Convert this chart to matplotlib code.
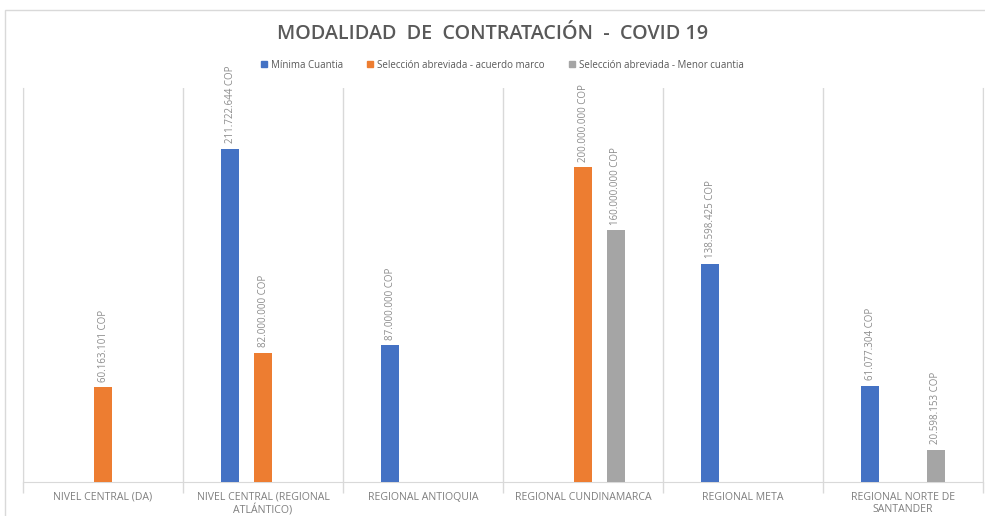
import numpy as np
import matplotlib
matplotlib.use("Agg")
import matplotlib.pyplot as plt
from matplotlib.patches import Patch, Rectangle

# Data (COP)
categories = ["NIVEL CENTRAL (DA)", "NIVEL CENTRAL (REGIONAL\nATLÁNTICO)", "REGIONAL ANTIOQUIA",
              "REGIONAL CUNDINAMARCA", "REGIONAL META", "REGIONAL NORTE DE\nSANTANDER"]
series_names = ["Mínima Cuantia", "Selección abreviada - acuerdo marco",
                "Selección abreviada - Menor cuantia"]
minima_cuantia = [None, 211722644, 87000000, None, 138598425, 61077304]
acuerdo_marco = [60163101, 82000000, None, 200000000, None, None]
menor_cuantia = [None, None, None, 160000000, None, 20598153]
colors = ["#4472C4", "#ED7D31", "#A5A5A5"]

plt.rcParams["font.family"] = ["Open Sans", "DejaVu Sans"]

fig = plt.figure(figsize=(9.85, 5.16), dpi=100)

# light frame around the chart area
fig.patches.append(Rectangle((5 / 985, -0.05), 1.1, 1 - 10 / 516 + 0.05,
                             transform=fig.transFigure, fill=False,
                             edgecolor="#D9D9D9", linewidth=1))

ax = fig.add_axes([23 / 985, 1 - 482 / 516, 960 / 985, (482 - 88) / 516])

x = np.arange(len(categories))
width = 0.1125
offset = 0.206


def fmt(v):
    return f"{v:,}".replace(",", ".") + " COP"


for i, (vals, col) in enumerate(zip([minima_cuantia, acuerdo_marco, menor_cuantia], colors)):
    for xi, v in zip(x, vals):
        if v is None:
            continue
        xp = xi + (i - 1) * offset
        ax.bar(xp, v, width=width, color=col, zorder=3)
        ax.annotate(fmt(v), (xp, v), xytext=(0, 4), textcoords="offset points",
                    rotation=90, ha="center", va="bottom", fontsize=7,
                    color="#8C8C8C")

ax.set_xlim(-0.5, len(categories) - 0.5)
ax.set_ylim(0, 250500000)
ax.set_yticks([])

# separators at the category boundaries, labels at the centres
ax.set_xticks(np.arange(-0.5, len(categories), 1))
ax.set_xticklabels([])
ax.tick_params(axis="x", which="major", length=8, color="#D9D9D9", width=1)
ax.set_xticks(x, minor=True)
ax.set_xticklabels(categories, minor=True, fontsize=7.6, color="#7F7F7F")
ax.tick_params(axis="x", which="minor", length=0, pad=7)
ax.grid(axis="x", which="major", color="#D9D9D9", linewidth=1, zorder=0)

ax.spines["top"].set_visible(False)
for s in ["left", "right", "bottom"]:
    ax.spines[s].set_color("#D9D9D9")

fig.text(0.5, 1 - 34 / 516, "MODALIDAD  DE  CONTRATACIÓN  -  COVID 19",
         ha="center", va="center", fontsize=14.2, fontweight="semibold",
         color="#595959")

handles = [Patch(color=c) for c in colors]
fig.legend(handles, series_names, loc="center", bbox_to_anchor=(0.51, 1 - 65 / 516),
           ncol=3, frameon=False, fontsize=7, handlelength=0.6, handleheight=0.6,
           handletextpad=0.4, columnspacing=2.5, labelcolor="#595959")

fig.savefig("out.png", dpi=100)
